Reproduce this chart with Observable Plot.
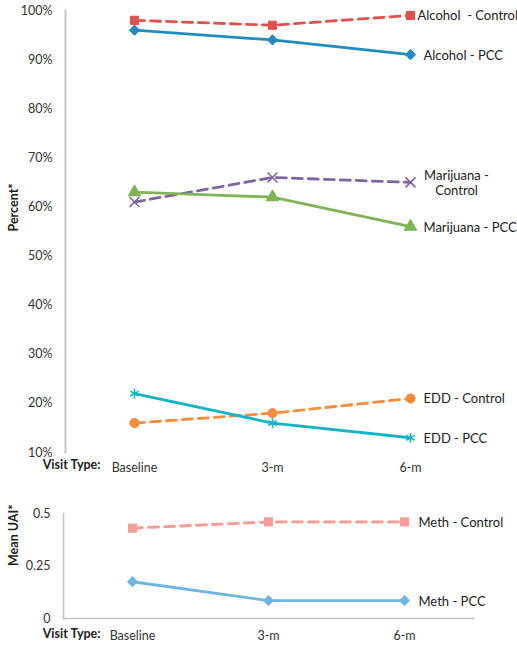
<!DOCTYPE html>
<html><head><meta charset="utf-8">
<script src="https://cdn.jsdelivr.net/npm/d3@7"></script>
<script src="https://cdn.jsdelivr.net/npm/@observablehq/plot@0.6"></script>
<style>
body{margin:0;background:#fff;}
#wrap{position:relative;width:517px;height:647px;}
#top,#bot{position:absolute;left:0;}
#top{top:0;} #bot{top:480px;}
svg{overflow:visible;}
</style></head><body>
<div id="wrap"><div id="top"></div><div id="bot"></div></div>
<script>
const visits = ["Baseline", "3-m", "6-m"];
const percentTicks = [10, 20, 30, 40, 50, 60, 70, 80, 90, 100];
const uaiTicks = [0, 0.25, 0.5];

const alcoholControl = [98, 97, 99];
const alcoholPCC = [96, 94, 91];
const marijuanaControl = [61, 66, 65];
const marijuanaPCC = [63, 62, 56];
const eddControl = [16, 18, 21];
const eddPCC = [22, 16, 13];
const methControl = [0.43, 0.46, 0.46];
const methPCC = [0.175, 0.085, 0.085];

const topSeries = [
  {name: "Alcohol  - Control", values: alcoholControl, color: "#E0504C", dash: "10,6", symbol: "square", fill: true, dx: 7},
  {name: "Alcohol - PCC", values: alcoholPCC, color: "#1F8BBE", dash: null, symbol: "diamond2", fill: true, dx: 13},
  {name: "Marijuana -\nControl", values: marijuanaControl, color: "#8064A2", dash: "10,6", symbol: "times", fill: false, dx: 46, anchor: "middle"},
  {name: "Marijuana - PCC", values: marijuanaPCC, color: "#7FB356", dash: null, symbol: "triangle2", fill: true, dx: 13},
  {name: "EDD - Control", values: eddControl, color: "#F68B3C", dash: "10,6", symbol: "circle", fill: true, dx: 13},
  {name: "EDD - PCC", values: eddPCC, color: "#14B4C6", dash: null, symbol: "asterisk", fill: false, dx: 13}
];
const botSeries = [
  {name: "Meth - Control", values: methControl, color: "#F49C95", dash: "10,6", symbol: "square", fill: true, dx: 14},
  {name: "Meth - PCC", values: methPCC, color: "#6DB6E0", dash: null, symbol: "diamond2", fill: true, dx: 14}
];

const font = "Lato, 'Open Sans', sans-serif";

function seriesMarks(list) {
  const marks = [];
  for (const s of list) {
    const data = visits.map((v, i) => ({visit: v, value: s.values[i]}));
    marks.push(Plot.line(data, {x: "visit", y: "value", stroke: s.color, strokeWidth: 2.8, strokeDasharray: s.dash}));
    marks.push(Plot.dot(data, {x: "visit", y: "value", symbol: () => s.symbol, r: s.symbol === "triangle2" ? 6 : 4.6,
      fill: s.fill ? s.color : "none", stroke: s.color, strokeWidth: s.fill ? 1 : 1.6}));
    const last = [data[data.length - 1]];
    marks.push(Plot.text(last, {x: "visit", y: "value", text: () => s.name, textAnchor: s.anchor || "start", dx: s.dx,
      fill: "#222", fontSize: 13, lineHeight: 1.2}));
  }
  return marks;
}

const topPlot = Plot.plot({
  width: 517, height: 480,
  marginTop: 10, marginBottom: 28, marginLeft: 65, marginRight: 38,
  style: {fontFamily: font, fontSize: "12px", color: "#333", background: "white", overflow: "visible"},
  x: {type: "point", domain: visits, padding: 0.5, label: null, axis: null},
  y: {domain: [10, 100], label: null, axis: null},
  marks: [
    Plot.axisY({ticks: percentTicks, tickFormat: d => d + "%", tickSize: 0, tickPadding: 13, label: null, fontSize: 12.5, fill: "#333"}),
    Plot.axisX({tickSize: 0, tickPadding: 11, label: null, fontSize: 12.5, fill: "#333"}),
    Plot.frame({anchor: "left", stroke: "#c4c4c4", strokeWidth: 2}),
    Plot.text(["Visit Type:"], {frameAnchor: "bottom-left", textAnchor: "end", dx: 35, dy: 16, fontWeight: "bold", fontSize: 12.5, fill: "#222"}),
    Plot.text(["Percent*"], {frameAnchor: "left", rotate: -90, dx: -52, fontWeight: "bold", fontSize: 12.5, fill: "#222"}),
    ...seriesMarks(topSeries)
  ]
});
document.getElementById("top").append(topPlot);

const botPlot = Plot.plot({
  width: 517, height: 167,
  marginTop: 33, marginBottom: 29, marginLeft: 63, marginRight: 44,
  style: {fontFamily: font, fontSize: "12px", color: "#333", background: "white", overflow: "visible"},
  x: {type: "point", domain: visits, padding: 0.5, label: null, axis: null},
  y: {domain: [0, 0.5], label: null, axis: null},
  marks: [
    Plot.axisY({ticks: uaiTicks, tickFormat: d => d === 0 ? "0" : String(d), tickSize: 0, tickPadding: 13, label: null, fontSize: 12.5, fill: "#333"}),
    Plot.axisX({tickSize: 0, tickPadding: 13, label: null, fontSize: 12.5, fill: "#333"}),
    Plot.frame({anchor: "left", stroke: "#c4c4c4", strokeWidth: 1.5}),
    Plot.frame({anchor: "bottom", stroke: "#c4c4c4", strokeWidth: 1.5}),
    Plot.text(["Visit Type:"], {frameAnchor: "bottom-left", textAnchor: "end", dx: 37, dy: 19, fontWeight: "bold", fontSize: 12.5, fill: "#222"}),
    Plot.text(["Mean UAI*"], {frameAnchor: "left", rotate: -90, dx: -50, fontWeight: "bold", fontSize: 12.5, fill: "#222"}),
    ...seriesMarks(botSeries)
  ]
});
document.getElementById("bot").append(botPlot);
</script>
</body></html>
